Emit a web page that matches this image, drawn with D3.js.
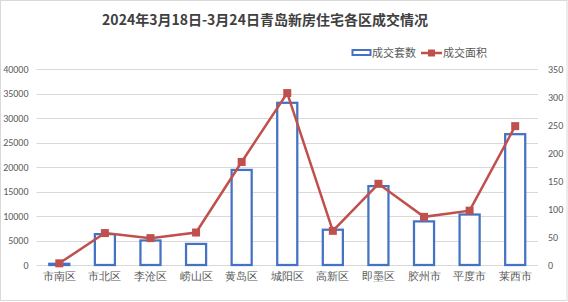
<!DOCTYPE html>
<html lang="zh">
<head>
<meta charset="UTF-8" />
<title>青岛新房住宅各区成交情况</title>
<script src="https://cdn.jsdelivr.net/npm/d3@7"></script>
<style>
  body { margin: 0; background: #fff; }
  svg { display: block; font-family: "Noto Sans CJK SC", "Microsoft YaHei", sans-serif; }
</style>
</head>
<body>
<svg id="svg"></svg>
<script>
const categories = ["市南区", "市北区", "李沧区", "崂山区", "黄岛区", "城阳区", "高新区", "即墨区", "胶州市", "平度市", "莱西市"];
const units = [250, 6300, 5000, 4300, 19400, 33100, 7200, 16100, 8900, 10300, 26700];   // 成交套数
const area = [3, 57, 48, 58, 184, 307, 61, 145, 86, 97, 248];                             // 成交面积
const leftTicks = [0, 5000, 10000, 15000, 20000, 25000, 30000, 35000, 40000];
const rightTicks = [0, 50, 100, 150, 200, 250, 300, 350];

const width = 568, height = 302;
const plot = { left: 36.5, right: 538, top: 69, bottom: 265 };
const blue = "#4472C4", red = "#C0504D";

const svg = d3.select("#svg").attr("width", width).attr("height", height);

// 外框
svg.append("rect")
  .attr("x", 0.5).attr("y", 0.5)
  .attr("width", width - 1.5).attr("height", height - 2)
  .attr("fill", "#fff").attr("stroke", "#d9d9d9");

const x = d3.scaleBand().domain(categories).range([plot.left, plot.right]).paddingInner(0.56).paddingOuter(0.28);
const yL = d3.scaleLinear().domain([0, 40000]).range([plot.bottom, plot.top]);
const yR = d3.scaleLinear().domain([0, 350]).range([plot.bottom, plot.top]);

// 网格线
svg.append("g")
  .selectAll("line")
  .data(leftTicks)
  .join("line")
  .attr("x1", plot.left).attr("x2", plot.right)
  .attr("y1", d => Math.round(yL(d)) + 0.5).attr("y2", d => Math.round(yL(d)) + 0.5)
  .attr("stroke", "#d9d9d9").attr("stroke-width", 1);

// 左轴
const axisL = svg.append("g")
  .attr("transform", `translate(${plot.left - 8},0)`)
  .call(d3.axisLeft(yL).tickValues(leftTicks).tickSize(0).tickPadding(0).tickFormat(d3.format("d")));
axisL.select(".domain").remove();
axisL.selectAll("text").attr("fill", "#595959").style("font-size", "10px").style("font-family", "Calibri, Carlito, 'Liberation Sans', sans-serif");

// 右轴
const axisR = svg.append("g")
  .attr("transform", `translate(${plot.right + 10},0)`)
  .call(d3.axisRight(yR).tickValues(rightTicks).tickSize(0).tickPadding(0));
axisR.select(".domain").remove();
axisR.selectAll("text").attr("fill", "#595959").style("font-size", "10px").style("font-family", "Calibri, Carlito, 'Liberation Sans', sans-serif");

// 类别轴
const axisX = svg.append("g")
  .attr("transform", `translate(0,${plot.bottom + 7})`)
  .call(d3.axisBottom(x).tickSize(0).tickPadding(0));
axisX.select(".domain").remove();
axisX.selectAll("text").attr("fill", "#595959").style("font-size", "11px");

// 柱子
svg.append("g")
  .selectAll("rect")
  .data(categories)
  .join("rect")
  .attr("x", d => x(d))
  .attr("y", (d, i) => yL(units[i]))
  .attr("width", x.bandwidth())
  .attr("height", (d, i) => plot.bottom - yL(units[i]))
  .attr("fill", "#fff")
  .attr("stroke", blue)
  .attr("stroke-width", 2.25);

// 折线
const pts = categories.map((c, i) => [x(c) + x.bandwidth() / 2, yR(area[i])]);
svg.append("path")
  .attr("d", d3.line()(pts))
  .attr("fill", "none")
  .attr("stroke", red)
  .attr("stroke-width", 2.5);

svg.append("g")
  .selectAll("rect")
  .data(pts)
  .join("rect")
  .attr("x", d => d[0] - 4).attr("y", d => d[1] - 4)
  .attr("width", 8).attr("height", 8)
  .attr("fill", red);

// 标题
svg.append("text")
  .attr("x", 265).attr("y", 25)
  .attr("text-anchor", "middle")
  .attr("fill", "#404040")
  .style("font-size", "14px")
  .style("font-weight", 700)
  .text("2024年3月18日-3月24日青岛新房住宅各区成交情况");

// 图例
const legend = svg.append("g").attr("transform", "translate(0,53)");
legend.append("rect")
  .attr("x", 352.5).attr("y", -3).attr("width", 18).attr("height", 5)
  .attr("fill", "#fff").attr("stroke", blue).attr("stroke-width", 2);
legend.append("text")
  .attr("x", 372).attr("y", 4)
  .attr("fill", "#595959").style("font-size", "11px")
  .text("成交套数");
legend.append("line")
  .attr("x1", 421).attr("x2", 442).attr("y1", 0).attr("y2", 0)
  .attr("stroke", red).attr("stroke-width", 2.5);
legend.append("rect")
  .attr("x", 428).attr("y", -3.5).attr("width", 7).attr("height", 7)
  .attr("fill", red);
legend.append("text")
  .attr("x", 443).attr("y", 4)
  .attr("fill", "#595959").style("font-size", "11px")
  .text("成交面积");
</script>
</body>
</html>
